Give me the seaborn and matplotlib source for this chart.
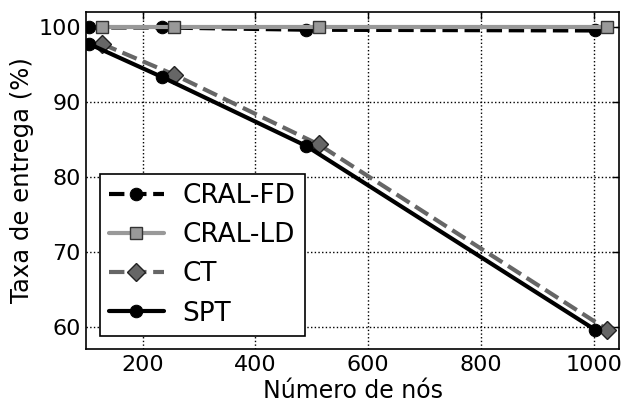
import matplotlib
matplotlib.use("Agg")
import matplotlib.pyplot as plt
import seaborn as sns
import pandas as pd

# Data
x_left = [105, 234, 490, 1002]
x_right = [128, 256, 512, 1024]
cral_fd = [99.9, 99.9, 99.6, 99.5]
cral_ld = [100.0, 100.0, 100.0, 100.0]
ct = [97.7, 93.6, 84.3, 59.6]
spt = [97.7, 93.3, 84.1, 59.6]
labels = ["CRAL-FD", "CRAL-LD", "CT", "SPT"]
x_ticks = [200, 400, 600, 800, 1000]
y_ticks = [60, 70, 80, 90, 100]

sns.set_style("white")
plt.rcParams["font.family"] = ["DejaVu Sans"]
plt.rcParams["text.color"] = "black"
plt.rcParams["axes.labelcolor"] = "black"

fig, ax = plt.subplots(figsize=(6.21, 4.05), dpi=100)

series = [
    (x_left, cral_fd, dict(color="black", linestyle="--", marker="o", markersize=9,
                           markerfacecolor="black", markeredgecolor="black", linewidth=3)),
    (x_right, cral_ld, dict(color="#999999", linestyle="-", marker="s", markersize=9,
                            markerfacecolor="#999999", markeredgecolor="#333333",
                            markeredgewidth=1, linewidth=3)),
    (x_right, ct, dict(color="#666666", linestyle="--", marker="D", markersize=9,
                       markerfacecolor="#666666", markeredgecolor="#222222",
                       markeredgewidth=1, linewidth=3)),
    (x_left, spt, dict(color="black", linestyle="-", marker="o", markersize=9,
                       markerfacecolor="black", markeredgecolor="black", linewidth=3)),
]

for (xs, ys, kw), lab in zip(series, labels):
    df = pd.DataFrame({"x": xs, "y": ys})
    sns.lineplot(data=df, x="x", y="y", ax=ax, label=lab, clip_on=True, **kw)

ax.set_xlim(100, 1045)
ax.set_ylim(57, 102)
ax.set_xticks(x_ticks)
ax.set_yticks(y_ticks)
ax.grid(True, color="black", linestyle=":", linewidth=1)
ax.tick_params(direction="in", length=5, width=1, top=True, right=True,
               labelsize=16, colors="black", labelcolor="black", pad=4)
for s in ax.spines.values():
    s.set_color("black")
    s.set_linewidth(1.2)
ax.set_xlabel("Número de nós", fontsize=17, labelpad=3, color="black")
ax.set_ylabel("Taxa de entrega (%)", fontsize=17.5, labelpad=3, color="black")

leg = ax.legend(loc="lower left", fontsize=19, handlelength=2.1, numpoints=1,
                fancybox=False, framealpha=1, handletextpad=0.7, labelspacing=0.5,
                borderaxespad=0.5, borderpad=0.35)
leg.get_frame().set_edgecolor("black")
leg.get_frame().set_linewidth(1.2)
for t in leg.get_texts():
    t.set_color("black")

fig.subplots_adjust(left=0.139, right=0.997, top=0.971, bottom=0.138)
fig.savefig("out.png", dpi=100)
